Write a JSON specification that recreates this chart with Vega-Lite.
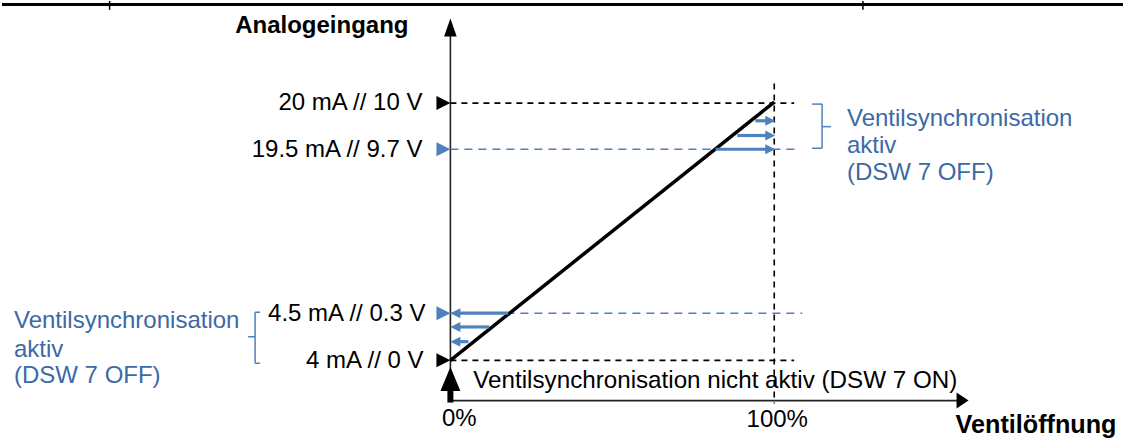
{
  "$schema": "https://vega.github.io/schema/vega-lite/v6.json",
  "width": 1125,
  "height": 439,
  "autosize": {"type": "fit", "contains": "padding"},
  "padding": 0,
  "background": "white",
  "config": {"view": {"stroke": null}, "axis": {"disable": true}},
  "datasets": {
    "border": [{"x": 0, "y": 3.5, "x2": 1125, "y2": 3.5}],
    "borderTicks": [{"x": 108, "y": 0, "x2": 108, "y2": 9}, {"x": 864, "y": 0, "x2": 864, "y2": 9}],
    "axes": [{"x": 450, "y": 30, "x2": 450, "y2": 407}, {"x": 450, "y": 407, "x2": 960, "y2": 407}],
    "kennlinie": [{"x": 450, "y": 366, "x2": 775, "y2": 103}],
    "grenzen": [{"x": 450, "y": 104, "x2": 795, "y2": 104}, {"x": 775, "y": 84, "x2": 775, "y2": 410}, {"x": 450, "y": 366, "x2": 795, "y2": 366}],
    "syncGrenzen": [{"x": 450, "y": 151, "x2": 800, "y2": 151}, {"x": 450, "y": 318, "x2": 803, "y2": 318}],
    "pfeile": [
      {"x": 756, "y": 122, "x2": 767, "y2": 122},
      {"x": 738, "y": 137, "x2": 767, "y2": 137},
      {"x": 716, "y": 151, "x2": 767, "y2": 151},
      {"x": 508, "y": 318, "x2": 459, "y2": 318},
      {"x": 489, "y": 332, "x2": 459, "y2": 332},
      {"x": 468, "y": 347, "x2": 459, "y2": 347}
    ],
    "spitzenRechts": [{"x": 771, "y": 122}, {"x": 771, "y": 137}, {"x": 771, "y": 151}],
    "spitzenLinks": [{"x": 455, "y": 318}, {"x": 455, "y": 332}, {"x": 455, "y": 347}],
    "marker": [
      {"x": 443, "y": 104, "typ": "grenze"},
      {"x": 443, "y": 366, "typ": "grenze"},
      {"x": 443, "y": 151, "typ": "sync"},
      {"x": 443, "y": 318, "typ": "sync"}
    ],
    "yPfeil": [{"x": 450, "y": 27}],
    "xPfeil": [{"x": 964, "y": 407}],
    "nullPfeil": [{"x": 450, "y": 385}],
    "nullStiel": [{"x": 450, "y": 395, "x2": 450, "y2": 409}],
    "klammern": [
      {"x": 813, "y": 105, "x2": 823, "y2": 105},
      {"x": 823, "y": 105, "x2": 823, "y2": 150},
      {"x": 813, "y": 150, "x2": 823, "y2": 150},
      {"x": 823, "y": 128, "x2": 832, "y2": 128},
      {"x": 254, "y": 317, "x2": 259, "y2": 317},
      {"x": 254, "y": 317, "x2": 254, "y2": 369},
      {"x": 254, "y": 369, "x2": 259, "y2": 369},
      {"x": 247, "y": 342, "x2": 254, "y2": 342}
    ],
    "werte": [
      {"x": 422, "y": 104, "label": "20 mA // 10 V"},
      {"x": 422, "y": 152, "label": "19.5 mA // 9.7 V"},
      {"x": 425, "y": 319, "label": "4.5 mA // 0.3 V"},
      {"x": 423, "y": 367, "label": "4 mA // 0 V"}
    ],
    "texte": [
      {"x": 473, "y": 387, "label": "Ventilsynchronisation nicht aktiv (DSW 7 ON)"}
    ],
    "prozent": [
      {"x": 459, "y": 426, "label": "0%"},
      {"x": 778, "y": 427, "label": "100%"}
    ],
    "achsenTitelY": [{"x": 234, "y": 25, "label": "Analogeingang"}],
    "achsenTitelX": [{"x": 957, "y": 432, "label": "Ventilöffnung"}],
    "hinweise": [
      {"x": 848, "y": 120, "label": "Ventilsynchronisation"},
      {"x": 848, "y": 148, "label": "aktiv"},
      {"x": 848, "y": 175, "label": "(DSW 7 OFF)"},
      {"x": 12, "y": 326, "label": "Ventilsynchronisation"},
      {"x": 12, "y": 355, "label": "aktiv"},
      {"x": 12, "y": 382, "label": "(DSW 7 OFF)"}
    ]
  },
  "layer": [
    {
      "data": {"name": "border"},
      "mark": {"type": "rule", "color": "#000000", "strokeWidth": 3},
      "encoding": {
        "x": {"field": "x", "type": "quantitative", "scale": {"domain": [0, 1125], "nice": false, "zero": false}, "axis": null},
        "y": {"field": "y", "type": "quantitative", "scale": {"domain": [0, 439], "nice": false, "zero": false, "reverse": true}, "axis": null},
        "x2": {"field": "x2"},
        "y2": {"field": "y2"}
      }
    },
    {
      "data": {"name": "borderTicks"},
      "mark": {"type": "rule", "color": "#000000", "strokeWidth": 1.5},
      "encoding": {
        "x": {"field": "x", "type": "quantitative"},
        "y": {"field": "y", "type": "quantitative"},
        "x2": {"field": "x2"},
        "y2": {"field": "y2"}
      }
    },
    {
      "data": {"name": "axes"},
      "mark": {"type": "rule", "color": "#222222", "strokeWidth": 1.6},
      "encoding": {
        "x": {"field": "x", "type": "quantitative"},
        "y": {"field": "y", "type": "quantitative"},
        "x2": {"field": "x2"},
        "y2": {"field": "y2"}
      }
    },
    {
      "data": {"name": "grenzen"},
      "mark": {"type": "rule", "color": "#000000", "strokeWidth": 1.6, "strokeDash": [6, 5]},
      "encoding": {
        "x": {"field": "x", "type": "quantitative"},
        "y": {"field": "y", "type": "quantitative"},
        "x2": {"field": "x2"},
        "y2": {"field": "y2"}
      }
    },
    {
      "data": {"name": "syncGrenzen"},
      "mark": {"type": "rule", "color": "#4f81bd", "strokeWidth": 1.5, "strokeDash": [8, 6]},
      "encoding": {
        "x": {"field": "x", "type": "quantitative"},
        "y": {"field": "y", "type": "quantitative"},
        "x2": {"field": "x2"},
        "y2": {"field": "y2"}
      }
    },
    {
      "data": {"name": "kennlinie"},
      "mark": {"type": "rule", "color": "#000000", "strokeWidth": 3.5},
      "encoding": {
        "x": {"field": "x", "type": "quantitative"},
        "y": {"field": "y", "type": "quantitative"},
        "x2": {"field": "x2"},
        "y2": {"field": "y2"}
      }
    },
    {
      "data": {"name": "pfeile"},
      "mark": {"type": "rule", "color": "#4f81bd", "strokeWidth": 3.2},
      "encoding": {
        "x": {"field": "x", "type": "quantitative"},
        "y": {"field": "y", "type": "quantitative"},
        "x2": {"field": "x2"},
        "y2": {"field": "y2"}
      }
    },
    {
      "data": {"name": "spitzenRechts"},
      "mark": {"type": "point", "shape": "M-1,-1L1,0L-1,1Z", "filled": true, "opacity": 1, "size": 100, "color": "#4f81bd", "strokeWidth": 0},
      "encoding": {
        "x": {"field": "x", "type": "quantitative"},
        "y": {"field": "y", "type": "quantitative"}
      }
    },
    {
      "data": {"name": "spitzenLinks"},
      "mark": {"type": "point", "shape": "M1,-1L-1,0L1,1Z", "filled": true, "opacity": 1, "size": 100, "color": "#4f81bd", "strokeWidth": 0},
      "encoding": {
        "x": {"field": "x", "type": "quantitative"},
        "y": {"field": "y", "type": "quantitative"}
      }
    },
    {
      "data": {"name": "marker"},
      "mark": {"type": "point", "shape": "M-1,-1L1,0L-1,1Z", "filled": true, "opacity": 1, "size": 196, "strokeWidth": 0},
      "encoding": {
        "x": {"field": "x", "type": "quantitative"},
        "y": {"field": "y", "type": "quantitative"},
        "color": {"field": "typ", "type": "nominal", "scale": {"domain": ["grenze", "sync"], "range": ["#000000", "#4f81bd"]}, "legend": null}
      }
    },
    {
      "data": {"name": "yPfeil"},
      "mark": {"type": "point", "shape": "M-0.7,1L0,-1L0.7,1Z", "filled": true, "opacity": 1, "size": 324, "color": "#000000", "strokeWidth": 0},
      "encoding": {
        "x": {"field": "x", "type": "quantitative"},
        "y": {"field": "y", "type": "quantitative"}
      }
    },
    {
      "data": {"name": "xPfeil"},
      "mark": {"type": "point", "shape": "M-0.75,-1L0.75,0L-0.75,1Z", "filled": true, "opacity": 1, "size": 256, "color": "#000000", "strokeWidth": 0},
      "encoding": {
        "x": {"field": "x", "type": "quantitative"},
        "y": {"field": "y", "type": "quantitative"}
      }
    },
    {
      "data": {"name": "nullPfeil"},
      "mark": {"type": "point", "shape": "M-0.83,1L0,-1L0.83,1Z", "filled": true, "opacity": 1, "size": 576, "color": "#000000", "strokeWidth": 0},
      "encoding": {
        "x": {"field": "x", "type": "quantitative"},
        "y": {"field": "y", "type": "quantitative"}
      }
    },
    {
      "data": {"name": "nullStiel"},
      "mark": {"type": "rule", "color": "#000000", "strokeWidth": 6},
      "encoding": {
        "x": {"field": "x", "type": "quantitative"},
        "y": {"field": "y", "type": "quantitative"},
        "x2": {"field": "x2"},
        "y2": {"field": "y2"}
      }
    },
    {
      "data": {"name": "klammern"},
      "mark": {"type": "rule", "color": "#4f81bd", "strokeWidth": 1.5},
      "encoding": {
        "x": {"field": "x", "type": "quantitative"},
        "y": {"field": "y", "type": "quantitative"},
        "x2": {"field": "x2"},
        "y2": {"field": "y2"}
      }
    },
    {
      "data": {"name": "werte"},
      "mark": {"type": "text", "align": "right", "baseline": "middle", "font": "Liberation Sans", "fontSize": 24, "color": "#000000"},
      "encoding": {
        "x": {"field": "x", "type": "quantitative"},
        "y": {"field": "y", "type": "quantitative"},
        "text": {"field": "label"}
      }
    },
    {
      "data": {"name": "texte"},
      "mark": {"type": "text", "align": "left", "baseline": "middle", "font": "Liberation Sans", "fontSize": 24.2, "color": "#000000"},
      "encoding": {
        "x": {"field": "x", "type": "quantitative"},
        "y": {"field": "y", "type": "quantitative"},
        "text": {"field": "label"}
      }
    },
    {
      "data": {"name": "prozent"},
      "mark": {"type": "text", "align": "center", "baseline": "middle", "font": "Liberation Sans", "fontSize": 24, "color": "#000000"},
      "encoding": {
        "x": {"field": "x", "type": "quantitative"},
        "y": {"field": "y", "type": "quantitative"},
        "text": {"field": "label"}
      }
    },
    {
      "data": {"name": "achsenTitelY"},
      "mark": {"type": "text", "align": "left", "baseline": "middle", "font": "Liberation Sans", "fontSize": 24, "fontWeight": "bold", "color": "#000000"},
      "encoding": {
        "x": {"field": "x", "type": "quantitative"},
        "y": {"field": "y", "type": "quantitative"},
        "text": {"field": "label"}
      }
    },
    {
      "data": {"name": "achsenTitelX"},
      "mark": {"type": "text", "align": "left", "baseline": "middle", "font": "Liberation Sans", "fontSize": 25.2, "fontWeight": "bold", "color": "#000000"},
      "encoding": {
        "x": {"field": "x", "type": "quantitative"},
        "y": {"field": "y", "type": "quantitative"},
        "text": {"field": "label"}
      }
    },
    {
      "data": {"name": "hinweise"},
      "mark": {"type": "text", "align": "left", "baseline": "middle", "font": "Liberation Sans", "fontSize": 24, "color": "#3b6aa6"},
      "encoding": {
        "x": {"field": "x", "type": "quantitative"},
        "y": {"field": "y", "type": "quantitative"},
        "text": {"field": "label"}
      }
    }
  ]
}
